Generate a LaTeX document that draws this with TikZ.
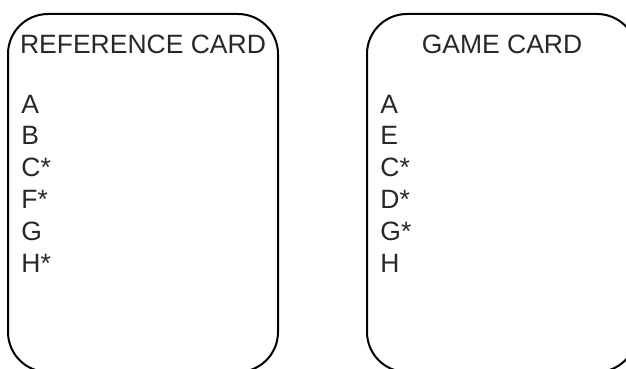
\documentclass[tikz,border=0pt]{standalone}
\usepackage{fontspec}
\setmainfont{Liberation Sans}
\usetikzlibrary{positioning}
\definecolor{cardink}{RGB}{40,40,40}

\tikzset{
  card/.style={draw=black,line width=1pt,rounded corners=20pt},
  cardtitle/.style={anchor=base,inner sep=0pt,text=cardink,font=\fontsize{13.25}{15.9}\selectfont},
  cardentry/.style={anchor=base west,inner sep=0pt,text=cardink,font=\fontsize{13.25}{15.9}\selectfont}
}

\begin{document}
\begin{tikzpicture}[x=0.5pt,y=-0.5pt]
  \useasboundingbox (0,0) rectangle (626,369);
  \clip (0,0) rectangle (626,369);
  % reference card
  \draw[card] (8,14) rectangle (278,372);
  \node[cardtitle] (reftitle) at (143,53.5) {REFERENCE CARD};
  \foreach \l [count=\i from 0] in {A,B,C*,F*,G,H*}
    \node[cardentry] (ref\i) at (21,{113+31.8*\i}) {\l};
  % game card
  \draw[card] (367,14) rectangle (637,372);
  \node[cardtitle] (gametitle) at (502,53.5) {GAME CARD};
  \foreach \l [count=\i from 0] in {A,E,C*,D*,G*,H}
    \node[cardentry] (game\i) at (380,{113+31.8*\i}) {\l};
\end{tikzpicture}
\end{document}
